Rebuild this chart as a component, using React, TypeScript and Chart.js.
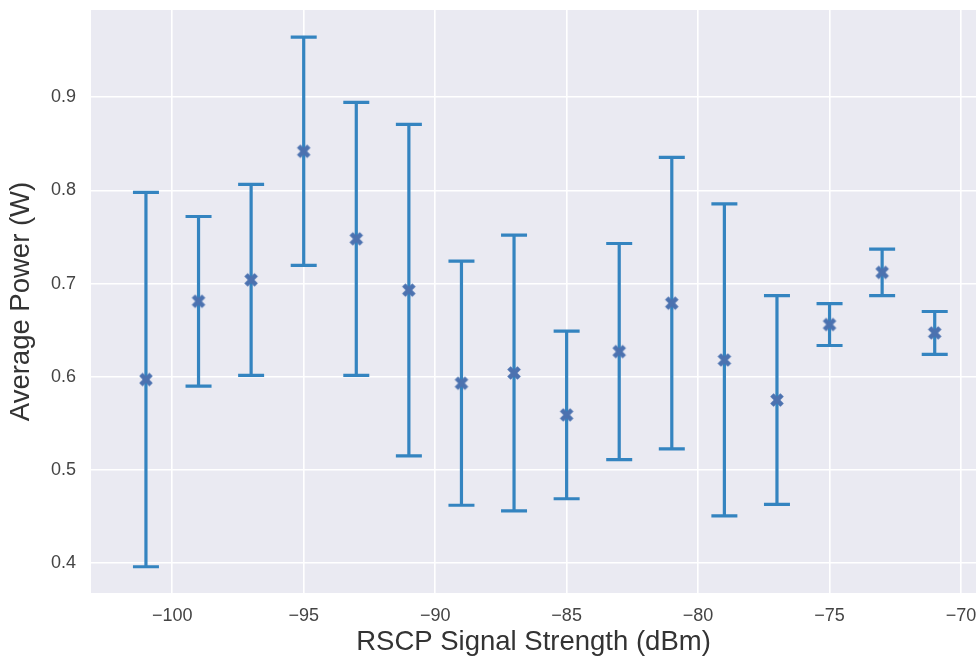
import React, { useEffect, useRef } from "react";
import { Chart, registerables } from "chart.js";

Chart.register(...registerables);

// RSCP bins (dBm) with mean power and its standard deviation (W)
const rscp = [-101, -99, -97, -95, -93, -91, -89, -87, -85, -83, -81, -79, -77, -75, -73, -71];
const meanPower = [0.597, 0.681, 0.704, 0.842, 0.748, 0.693, 0.593, 0.604, 0.559, 0.627, 0.679, 0.618, 0.575, 0.656, 0.712, 0.647];
const stdPower = [0.201, 0.091, 0.1025, 0.1225, 0.1465, 0.178, 0.131, 0.148, 0.09, 0.116, 0.1565, 0.1675, 0.112, 0.0225, 0.025, 0.023];

const xTickValues = [-100, -95, -90, -85, -80, -75, -70];
const yTickValues = [0.4, 0.5, 0.6, 0.7, 0.8, 0.9];

const BG = "#EAEAF2";
const ERR_COLOR = "#3484c0";
const MARKER_COLOR = "#4c72b0";
const FONT = "'Liberation Sans', Arial, sans-serif";

function makeXMarker(): HTMLCanvasElement {
  const c = document.createElement("canvas");
  c.width = 16;
  c.height = 16;
  const ctx = c.getContext("2d")!;
  ctx.fillStyle = MARKER_COLOR;
  ctx.translate(8, 8);
  ctx.rotate(Math.PI / 4);
  ctx.fillRect(-7.2, -2.4, 14.4, 4.8);
  ctx.rotate(Math.PI / 2);
  ctx.fillRect(-7.2, -2.4, 14.4, 4.8);
  return c;
}

const plotBackground = {
  id: "plotBackground",
  beforeDraw(chart: any) {
    const { ctx, chartArea } = chart;
    ctx.save();
    ctx.fillStyle = BG;
    ctx.fillRect(chartArea.left, chartArea.top, chartArea.right - chartArea.left, chartArea.bottom - chartArea.top);
    ctx.restore();
  },
};

const errorBars = {
  id: "errorBars",
  beforeDatasetsDraw(chart: any) {
    const { ctx, scales } = chart;
    const xs = scales.x;
    const ys = scales.y;
    ctx.save();
    ctx.strokeStyle = ERR_COLOR;
    ctx.lineWidth = 3.2;
    ctx.lineCap = "butt";
    const capHalf = 13;
    rscp.forEach((r, i) => {
      const x = xs.getPixelForValue(r);
      const yHi = ys.getPixelForValue(meanPower[i] + stdPower[i]);
      const yLo = ys.getPixelForValue(meanPower[i] - stdPower[i]);
      ctx.beginPath();
      ctx.moveTo(x, yHi);
      ctx.lineTo(x, yLo);
      ctx.moveTo(x - capHalf, yHi);
      ctx.lineTo(x + capHalf, yHi);
      ctx.moveTo(x - capHalf, yLo);
      ctx.lineTo(x + capHalf, yLo);
      ctx.stroke();
    });
    ctx.restore();
  },
};

const fmtMinus = (v: number) => (v < 0 ? "\u2212" + Math.abs(v) : String(v));

export default function App() {
  const canvasRef = useRef<HTMLCanvasElement | null>(null);

  useEffect(() => {
    document.body.style.margin = "0";
    const marker = makeXMarker();
    const chart = new Chart(canvasRef.current!, {
      type: "scatter",
      data: {
        datasets: [
          {
            data: rscp.map((r, i) => ({ x: r, y: meanPower[i] })),
            pointStyle: marker as any,
            backgroundColor: MARKER_COLOR,
            borderColor: MARKER_COLOR,
            showLine: false,
          },
        ],
      },
      options: {
        animation: false,
        responsive: false,
        devicePixelRatio: 1,
        layout: { autoPadding: false, padding: { top: 10, right: 0, left: 0, bottom: 0 } },
        plugins: {
          legend: { display: false },
          tooltip: { enabled: false },
        },
        scales: {
          x: {
            type: "linear",
            min: -103.09,
            max: -69.43,
            border: { display: false },
            grid: { color: "#ffffff", lineWidth: 1.6, drawTicks: false },
            afterBuildTicks: (scale: any) => {
              scale.ticks = xTickValues.map((v) => ({ value: v }));
            },
            afterFit: (scale: any) => {
              scale.height = 67;
              scale.paddingLeft = 0;
              scale.paddingRight = 0;
            },
            ticks: {
              padding: 12,
              color: "#444",
              font: { family: FONT, size: 18 },
              callback: (v: any) => fmtMinus(Number(v)),
              maxRotation: 0,
              autoSkip: false,
            },
            title: {
              display: true,
              text: "RSCP Signal Strength (dBm)",
              color: "#333",
              font: { family: FONT, size: 27.5 },
              padding: { top: 0, bottom: 1 },
            },
          },
          y: {
            type: "linear",
            min: 0.3678,
            max: 0.9937,
            border: { display: false },
            grid: { color: "#ffffff", lineWidth: 1.6, drawTicks: false },
            afterBuildTicks: (scale: any) => {
              scale.ticks = yTickValues.map((v) => ({ value: v }));
            },
            afterFit: (scale: any) => {
              scale.width = 91;
              scale.paddingTop = 0;
              scale.paddingBottom = 0;
            },
            ticks: {
              padding: 15,
              color: "#444",
              font: { family: FONT, size: 18 },
              callback: (v: any) => Number(v).toFixed(1),
              autoSkip: false,
            },
            title: {
              display: true,
              text: "Average Power (W)",
              color: "#333",
              font: { family: FONT, size: 27.5 },
              padding: { top: 5, bottom: 0 },
            },
          },
        },
      },
      plugins: [plotBackground, errorBars],
    });
    return () => chart.destroy();
  }, []);

  return (
    <div style={{ position: "absolute", left: 0, top: 0, width: 976, height: 660 }}>
      <canvas ref={canvasRef} width={976} height={660} />
    </div>
  );
}
